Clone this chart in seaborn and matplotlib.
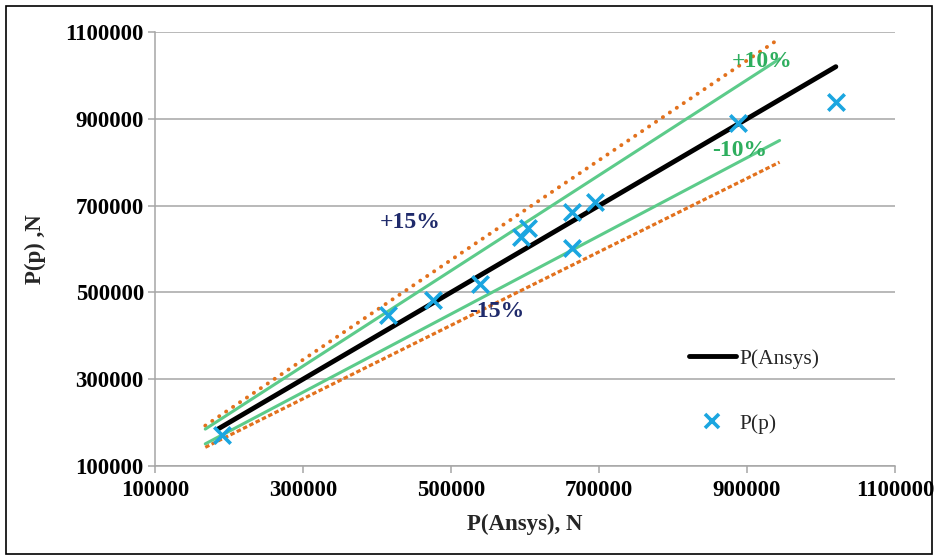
import matplotlib
matplotlib.use("Agg")
import matplotlib.pyplot as plt
import seaborn as sns
import pandas as pd
from matplotlib.lines import Line2D
from matplotlib.patches import Rectangle

# measured points
p_ansys = [190000, 415000, 476000, 539000, 595000, 604000, 663000, 694000, 663000, 888000, 1020000]
p_p = [171000, 448000, 482000, 519000, 628000, 648000, 686000, 709000, 602000, 890000, 939000]

# reference line P(Ansys) = P(p)
ref_x = [185000, 1020000]
ref_y = [185000, 1020000]

# error band lines
band_x = [168000, 944000]
upper15 = [193000, 1085000]
lower15 = [143000, 800000]
upper10 = [185000, 1038000]
lower10 = [151000, 850000]

x_ticks = [100000, 300000, 500000, 700000, 900000, 1100000]
y_ticks = [100000, 300000, 500000, 700000, 900000, 1100000]

sns.set_style("whitegrid")
plt.rcParams["font.family"] = ["Liberation Serif", "DejaVu Serif"]

fig = plt.figure(figsize=(9.38, 5.58), dpi=100)
ax = fig.add_axes([0.1652, 0.1649, 0.789, 0.7778])

orange = "#E2711D"
green = "#5CCB8A"
blue = "#1BA6E0"
navy = "#1F2A6B"

bands = pd.DataFrame({"x": band_x, "u15": upper15, "l15": lower15,
                      "u10": upper10, "l10": lower10})
sns.lineplot(data=bands, x="x", y="u15", ax=ax, color=orange, lw=2.8,
             linestyle=(0, (0.05, 2.1)), dash_capstyle="round")
sns.lineplot(data=bands, x="x", y="l15", ax=ax, color=orange, lw=2.3,
             linestyle=(0, (1.4, 0.8)), dash_capstyle="butt")
sns.lineplot(data=bands, x="x", y="u10", ax=ax, color=green, lw=2.2)
sns.lineplot(data=bands, x="x", y="l10", ax=ax, color=green, lw=2.2)

ref = pd.DataFrame({"x": ref_x, "y": ref_y})
sns.lineplot(data=ref, x="x", y="y", ax=ax, color="black", lw=3.5)

pts = pd.DataFrame({"ansys": p_ansys, "p": p_p})
sns.scatterplot(data=pts, x="ansys", y="p", ax=ax, marker="x", s=140,
                color=blue, linewidth=2.6, zorder=5)

ax.set_xlim(100000, 1100000)
ax.set_ylim(100000, 1100000)
ax.set_xticks(x_ticks)
ax.set_yticks(y_ticks)
ax.set_xticklabels([str(v) for v in x_ticks], fontsize=16.5, fontweight="bold")
ax.set_yticklabels([str(v) for v in y_ticks], fontsize=16.5, fontweight="bold")
ax.grid(axis="x", visible=False)
ax.grid(axis="y", color="#A6A6A6", lw=1.1)
for s in ["top", "right"]:
    ax.spines[s].set_visible(False)
for s in ["left", "bottom"]:
    ax.spines[s].set_color("#A6A6A6")
    ax.spines[s].set_linewidth(1.1)
ax.tick_params(axis="both", length=5, color="#A6A6A6", width=1.1, pad=4,
               labelcolor="black", direction="out")
ax.tick_params(axis="x", bottom=True, pad=5)
ax.tick_params(axis="y", left=True, pad=3)

ax.set_xlabel("P(Ansys), N", fontsize=16.5, fontweight="bold", labelpad=9)
ax.set_ylabel("P(p) ,N", fontsize=16.5, fontweight="bold", labelpad=14)

ax.text(445000, 662000, "+15%", fontsize=17, fontweight="bold", color=navy,
        ha="center", va="center")
ax.text(562000, 455000, "-15%", fontsize=17, fontweight="bold", color=navy,
        ha="center", va="center")
ax.text(920000, 1031000, "+10%", fontsize=17, fontweight="bold", color="#2EAE5E",
        ha="center", va="center")
ax.text(890000, 828000, "-10%", fontsize=17, fontweight="bold", color="#2EAE5E",
        ha="center", va="center")

handles = [Line2D([], [], color="black", lw=3.5),
           Line2D([], [], color=blue, marker="x", linestyle="none",
                  markersize=10, markeredgewidth=2.6)]
ax.legend(handles, ["P(Ansys)", "P(p)"], loc="upper left",
          bbox_to_anchor=(0.695, 0.315), frameon=False, fontsize=15.5,
          labelspacing=2.1, handlelength=2.2, handletextpad=0.15)

fig.patches.append(Rectangle((0.006, 0.008), 0.988, 0.982, transform=fig.transFigure,
                             fill=False, edgecolor="black", lw=1.2))

fig.savefig("out.png", dpi=100)
